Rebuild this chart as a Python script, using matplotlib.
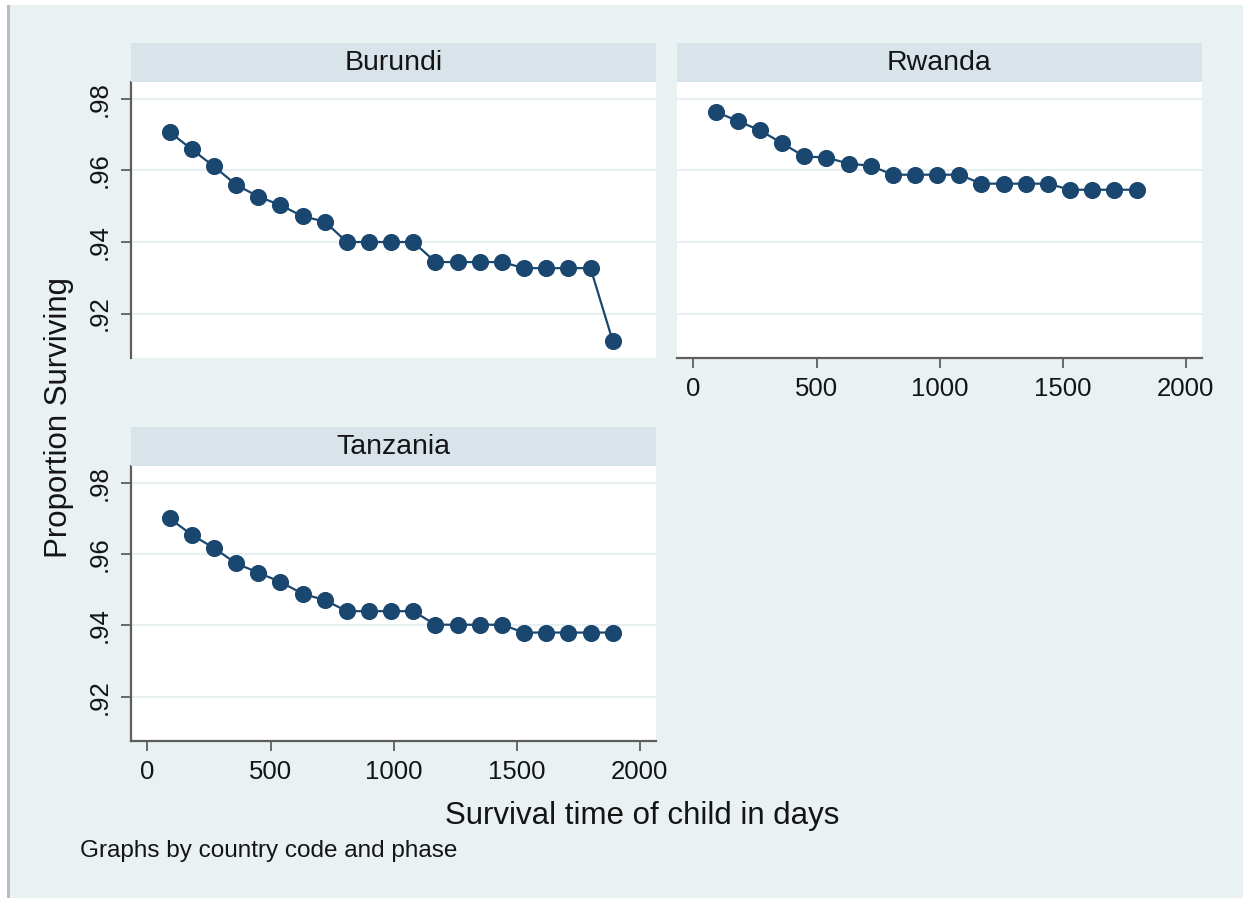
import matplotlib
matplotlib.use("Agg")
import matplotlib.pyplot as plt
from matplotlib.patches import Rectangle

# Kaplan-Meier style survival proportions by country (quarterly time points)
days_burundi = [90, 180, 270, 360, 450, 540, 630, 720, 810, 900, 990, 1080,
                1170, 1260, 1350, 1440, 1530, 1620, 1710, 1800, 1890]
surv_burundi = [0.9707, 0.9659, 0.9611, 0.9560, 0.9527, 0.9503, 0.9472, 0.9457,
                0.9400, 0.9400, 0.9400, 0.9400, 0.9344, 0.9344, 0.9344, 0.9344,
                0.9327, 0.9327, 0.9327, 0.9327, 0.9124]

days_rwanda = [90, 180, 270, 360, 450, 540, 630, 720, 810, 900, 990, 1080,
               1170, 1260, 1350, 1440, 1530, 1620, 1710, 1800]
surv_rwanda = [0.9764, 0.9738, 0.9712, 0.9676, 0.9639, 0.9636, 0.9619, 0.9613,
               0.9588, 0.9588, 0.9588, 0.9588, 0.9563, 0.9563, 0.9563, 0.9563,
               0.9546, 0.9546, 0.9546, 0.9546]

days_tanzania = [90, 180, 270, 360, 450, 540, 630, 720, 810, 900, 990, 1080,
                 1170, 1260, 1350, 1440, 1530, 1620, 1710, 1800, 1890]
surv_tanzania = [0.9700, 0.9654, 0.9617, 0.9574, 0.9548, 0.9522, 0.9489, 0.9471,
                 0.9440, 0.9440, 0.9440, 0.9440, 0.9402, 0.9402, 0.9402, 0.9402,
                 0.9380, 0.9380, 0.9380, 0.9380, 0.9380]

countries = ["Burundi", "Rwanda", "Tanzania"]
y_ticks = [0.92, 0.94, 0.96, 0.98]
y_tick_labels = [".92", ".94", ".96", ".98"]
x_ticks = [0, 500, 1000, 1500, 2000]
x_tick_labels = ["0", "500", "1000", "1500", "2000"]

plt.rcParams["font.family"] = ["Liberation Sans", "DejaVu Sans"]

W, H = 1243, 898
BG = "#E9F1F3"
STRIP = "#D8E4EA"
NAVY = "#1A476F"
GRID = "#E7EFF2"
AXIS = "#5E5E5E"
TEXT = "#141414"

fig = plt.figure(figsize=(W / 100, H / 100), dpi=100, facecolor=BG)


def frac_rect(left, top, right, bottom):
    return [left / W, 1 - bottom / H, (right - left) / W, (bottom - top) / H]


# outer frame: thin white margin with grey rule on the left
fig.patches.append(Rectangle((0, 1 - 5 / H), 1, 5 / H, transform=fig.transFigure,
                             facecolor="white", edgecolor="none", zorder=0))
fig.patches.append(Rectangle((0, 0), 7 / W, 1, transform=fig.transFigure,
                             facecolor="white", edgecolor="none", zorder=0))
fig.patches.append(Rectangle((7 / W, 0), 2.5 / W, 1 - 5 / H, transform=fig.transFigure,
                             facecolor="#B9BCBE", edgecolor="none", zorder=0))

panels = [
    # name, days, surv, plot box (l, t, r, b), show y axis, show x axis
    (countries[0], days_burundi, surv_burundi, (131, 82, 656, 358), True, False),
    (countries[1], days_rwanda, surv_rwanda, (677, 82, 1202, 358), False, True),
    (countries[2], days_tanzania, surv_tanzania, (131, 466, 656, 741), True, True),
]

for name, xs, ys, (l, t, r, b), show_y, show_x in panels:
    ax = fig.add_axes(frac_rect(l, t, r, b))
    ax.set_facecolor("white")
    ax.set_xlim(-67, 2066)
    ax.set_ylim(0.9076, 0.9847)

    ax.set_yticks(y_ticks)
    ax.yaxis.grid(True, color=GRID, linewidth=1.6)
    ax.set_axisbelow(True)
    ax.plot(xs, ys, color=NAVY, linewidth=1.6, marker="o", markersize=11.3,
            markerfacecolor=NAVY, markeredgecolor=NAVY, zorder=3, clip_on=False)

    for side in ("top", "right"):
        ax.spines[side].set_visible(False)
    ax.spines["left"].set_visible(show_y)
    ax.spines["bottom"].set_visible(show_x)
    for side in ("left", "bottom"):
        ax.spines[side].set_color(AXIS)
        ax.spines[side].set_linewidth(1.6)

    if show_y:
        ax.set_yticklabels(y_tick_labels, rotation=90, va="center",
                           fontsize=18.5, color=TEXT)
        ax.tick_params(axis="y", length=7, width=1.3, color=AXIS, pad=7)
    else:
        ax.tick_params(axis="y", left=False, labelleft=False)

    if show_x:
        ax.set_xticks(x_ticks)
        ax.set_xticklabels(x_tick_labels, fontsize=18.5, color=TEXT)
        ax.tick_params(axis="x", length=7, width=1.3, color=AXIS, pad=7)
    else:
        ax.set_xticks([])
        ax.tick_params(axis="x", bottom=False, labelbottom=False)

    # facet strip with the country name
    strip_h = 39
    fig.patches.append(Rectangle((l / W, 1 - t / H), (r - l) / W, strip_h / H,
                                 transform=fig.transFigure, facecolor=STRIP,
                                 edgecolor="none", zorder=1))
    fig.text((l + r) / 2 / W, 1 - (t - strip_h / 2) / H, name, ha="center",
             va="center", fontsize=20.5, color=TEXT)

fig.text(59 / W, 1 - 418 / H, "Proportion Surviving", rotation=90,
         ha="center", va="center", fontsize=22.5, color=TEXT)
fig.text(642 / W, 1 - 816 / H, "Survival time of child in days",
         ha="center", va="center", fontsize=22.5, color=TEXT)
fig.text(80 / W, 1 - 851 / H, "Graphs by country code and phase",
         ha="left", va="center", fontsize=17.5, color=TEXT)

fig.savefig("out.png", dpi=100, facecolor=BG)
